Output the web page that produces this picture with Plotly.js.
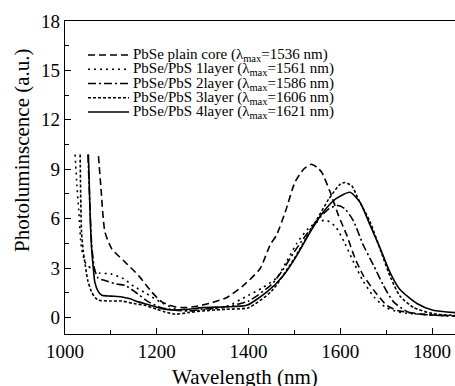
<!DOCTYPE html>
<html>
<head>
<meta charset="utf-8">
<script src="https://cdn.plot.ly/plotly-3.0.1.min.js"></script>
<style>html,body{margin:0;padding:0;background:#fff;}#chart{width:455px;height:386px;}</style>
</head>
<body>
<div id="chart"></div>
<script>
const names = [
  "PbSe plain core (λ<sub>max</sub>=1536 nm)",
  "PbSe/PbS 1layer (λ<sub>max</sub>=1561 nm)",
  "PbSe/PbS 2layer (λ<sub>max</sub>=1586 nm)",
  "PbSe/PbS 3layer (λ<sub>max</sub>=1606 nm)",
  "PbSe/PbS 4layer (λ<sub>max</sub>=1621 nm)"
];
const coreX = [1073,1078,1087,1102,1131,1160,1189,1211,1240,1262,1290,1320,1352,1389,1425,1447,1461,1480,1501,1520,1537,1550,1560,1578,1596,1614,1632,1650,1676,1701,1723,1750,1800,1850];
const coreY = [9.8,8.0,5.2,4.17,3.36,2.56,1.55,0.95,0.65,0.6,0.7,0.9,1.2,1.95,2.96,4.4,5.0,6.4,8.2,9.0,9.3,9.1,8.8,7.6,6.2,5.0,3.6,2.56,1.55,0.74,0.44,0.3,0.15,0.1];
const l1X = [1022,1026,1030,1036,1045,1060,1075,1100,1127,1150,1178,1207,1240,1270,1300,1350,1400,1430,1461,1483,1505,1530,1550,1570,1590,1610,1630,1650,1675,1700,1725,1750,1800,1850];
const l1Y = [9.9,8.0,6.5,4.2,3.3,2.9,2.7,2.65,2.36,1.9,1.45,0.95,0.55,0.4,0.45,0.65,1.35,1.8,2.4,3.4,4.5,5.4,5.8,5.9,5.5,4.5,3.3,2.2,1.2,0.6,0.35,0.25,0.15,0.1];
const l2X = [1050,1054,1058,1064,1072,1087,1109,1131,1153,1182,1210,1240,1270,1300,1350,1400,1450,1475,1500,1525,1550,1575,1595,1610,1628,1650,1672,1694,1716,1750,1800,1850];
const l2Y = [9.9,7.0,4.5,3.0,2.4,2.25,2.05,1.95,1.55,0.95,0.6,0.45,0.4,0.5,0.65,1.0,2.0,2.9,4.0,5.0,5.9,6.6,6.8,6.6,5.9,4.4,3.2,1.95,0.95,0.3,0.15,0.1];
const l3X = [1033,1036,1040,1044,1050,1058,1066,1073,1100,1124,1150,1174,1200,1218,1240,1270,1300,1350,1400,1450,1500,1525,1550,1575,1600,1610,1625,1639,1665,1690,1710,1730,1760,1800,1850];
const l3Y = [9.9,5.2,4.0,3.2,2.2,1.55,1.2,1.05,1.0,1.0,0.85,0.74,0.5,0.34,0.2,0.3,0.4,0.5,0.6,1.6,3.6,4.8,6.0,7.2,8.1,8.2,8.0,7.2,5.8,3.9,2.4,1.3,0.6,0.25,0.12];
const l4X = [1051,1055,1058,1062,1065,1072,1080,1100,1124,1140,1160,1185,1211,1240,1270,1300,1350,1396,1440,1476,1505,1534,1560,1590,1621,1643,1665,1687,1708,1730,1767,1802,1850];
const l4Y = [9.9,6.0,4.2,2.9,2.15,1.6,1.35,1.3,1.25,1.15,0.95,0.75,0.54,0.45,0.5,0.6,0.65,0.74,1.55,2.55,3.76,5.17,6.3,7.2,7.6,7.0,5.6,4.2,2.76,1.7,0.85,0.44,0.3];

const xs = [coreX,l1X,l2X,l3X,l4X];
const ys = [coreY,l1Y,l2Y,l3Y,l4Y];
const dashes = ["7px,4px","2px,4px","8px,3px,2px,3px","3px,2px","solid"];

const traces = xs.map((x,i)=>({
  x:x, y:ys[i], type:'scatter', mode:'lines', name:names[i], showlegend:false,
  line:{color:'#000', width:1.6, dash:dashes[i], shape:'spline', smoothing:0.6}
}));

const font = "Liberation Serif, Times New Roman, serif";
// plot area in pixels: x 65..455, y 21..334
const px = v => (v-65)/390;
const py = v => (334-v)/313;
const rowY = [55, 69.3, 83.5, 97.7, 112];

const shapes = [];
const annotations = [];
names.forEach((n,i)=>{
  shapes.push({type:'line', xref:'paper', yref:'paper', x0:px(88), x1:px(129), y0:py(rowY[i]), y1:py(rowY[i]),
    line:{color:'#000', width:1.6, dash:dashes[i]}});
  annotations.push({text:n, xref:'paper', yref:'paper', x:px(131), y:py(rowY[i]), xanchor:'left', yanchor:'middle',
    showarrow:false, font:{family:font, size:15, color:'#000'}});
});
annotations.push({text:"Wavelength (nm)", xref:'paper', yref:'paper', x:px(245), y:py(377), xanchor:'center', yanchor:'middle',
  showarrow:false, font:{family:font, size:21, color:'#000'}});
annotations.push({text:"Photoluminscence (a.u.)", xref:'paper', yref:'paper', x:px(22), y:py(150), xanchor:'center', yanchor:'middle',
  textangle:-90, showarrow:false, font:{family:font, size:21, color:'#000'}});

const layout = {
  width:455, height:386,
  margin:{l:65, r:0, t:21, b:52},
  paper_bgcolor:'#fff', plot_bgcolor:'#fff',
  font:{family:font, color:'#000'},
  showlegend:false,
  xaxis:{range:[1000,1850], showgrid:false, zeroline:false, showline:true, linecolor:'#000', linewidth:1.3,
    mirror:true, ticks:'inside', ticklen:6, tickwidth:1, tickcolor:'#000', dtick:200, tick0:1000,
    tickfont:{family:font, size:19, color:'#000'},
    minor:{ticks:'inside', ticklen:4, dtick:100, tickcolor:'#000', showgrid:false}},
  yaxis:{range:[-1,18], showgrid:false, zeroline:false, showline:true, linecolor:'#000', linewidth:1.3,
    ticks:'inside', ticklen:6, tickwidth:1, tickcolor:'#000', dtick:3, tick0:0,
    tickfont:{family:font, size:19, color:'#000'},
    minor:{ticks:'inside', ticklen:4, dtick:1.5, tickcolor:'#000', showgrid:false}},
  shapes:shapes,
  annotations:annotations
};
Plotly.newPlot('chart', traces, layout, {displayModeBar:false, staticPlot:true});
</script>
</body>
</html>
